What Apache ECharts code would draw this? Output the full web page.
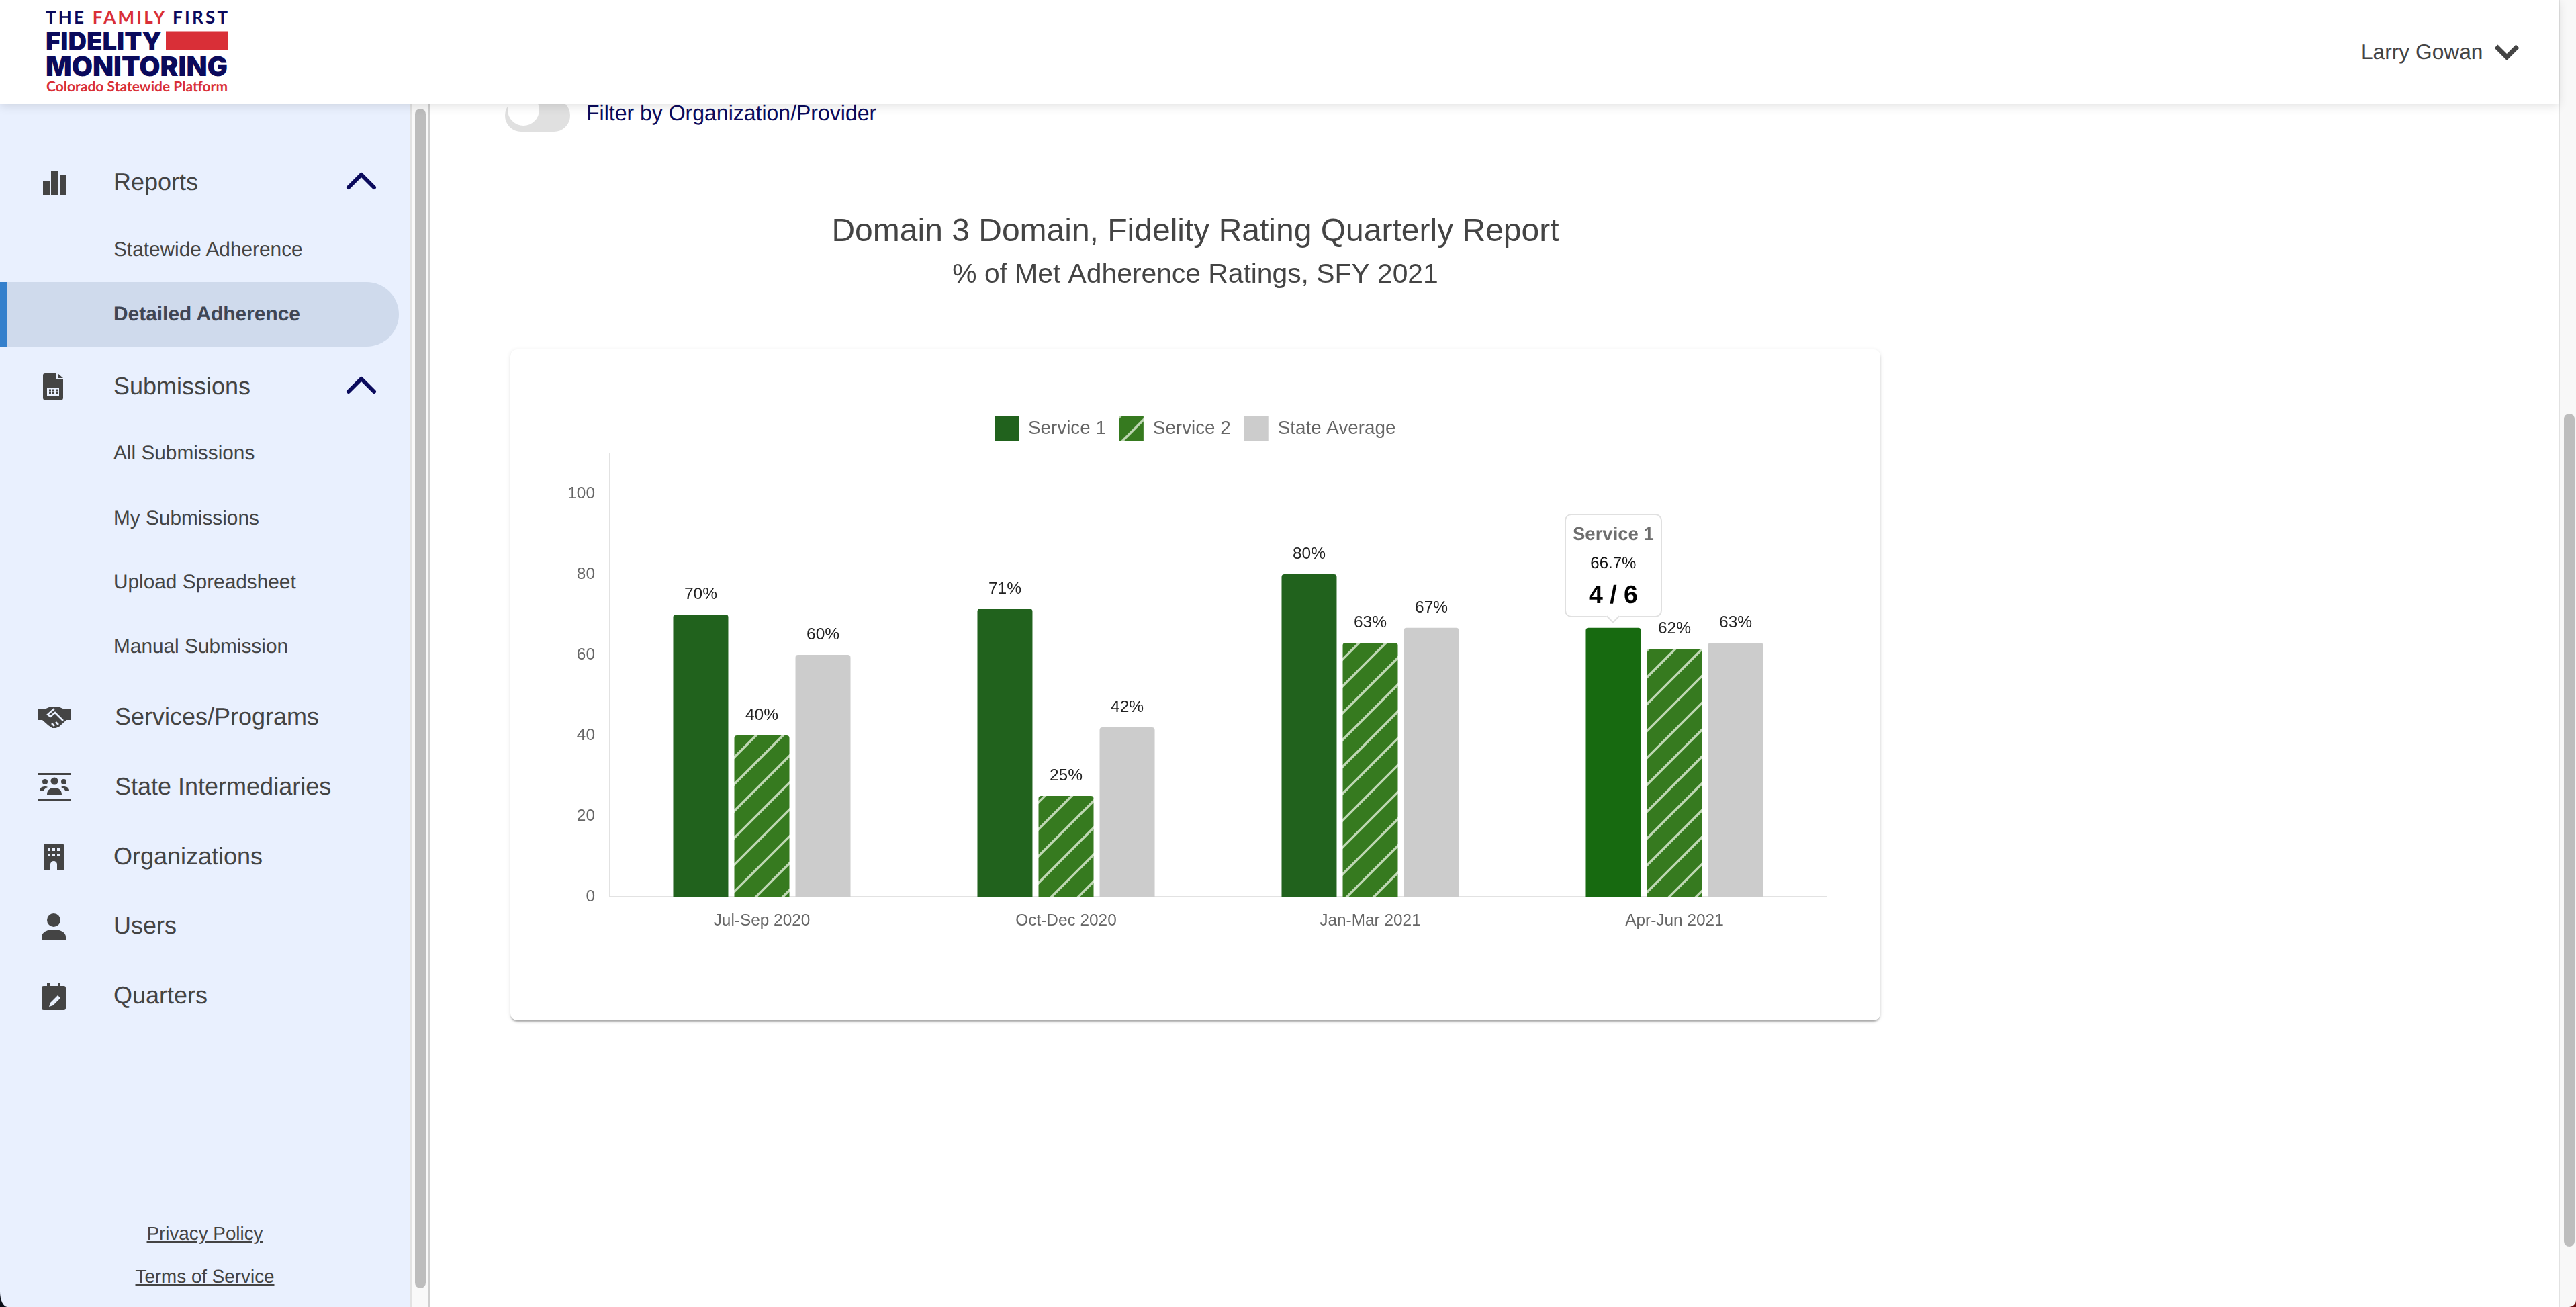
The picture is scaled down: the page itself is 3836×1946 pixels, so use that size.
<!DOCTYPE html>
<html>
<head>
<meta charset="utf-8">
<title>Detailed Adherence</title>
<script src="https://cdn.jsdelivr.net/npm/echarts@6/dist/echarts.min.js"></script>
<style>
*{box-sizing:border-box}
html,body{margin:0;padding:0;width:3836px;height:1946px;overflow:hidden;background:#fff;font-family:"Liberation Sans",Arial,sans-serif;color:#444;text-rendering:geometricPrecision}
.abs{position:absolute;white-space:nowrap}
.nav{left:169px;transform:translateY(-50%);line-height:1}
.big{font-size:36px;margin-top:-1px}
.small{font-size:29.8px}
#header{position:absolute;left:0;top:0;width:3810px;height:155px;background:#fff;box-shadow:0 3px 14px rgba(0,0,0,.12);z-index:5}
#cornerl{position:absolute;left:0;top:1900px;width:30px;height:46px;background:#0a0f18}
#sidebar{position:absolute;left:0;top:155px;width:611px;height:1791px;background:#e9f0fe;border-bottom-left-radius:11px 23px}
#sidetrack{position:absolute;left:611px;top:155px;width:29px;height:1791px;background:#f9f9f9;border-left:2px solid #e2e2e2;border-right:3px solid #cfcfcf}
#sidethumb{position:absolute;left:618px;top:162px;width:16px;height:1756px;border-radius:8px;background:#bdbdbd}
#pill{position:absolute;left:10px;top:420px;width:584px;height:96px;background:#cfdaec;border-radius:0 48px 48px 0}
#pillbar{position:absolute;left:0;top:420px;width:10px;height:96px;background:#3580cc}
#cornerr{position:absolute;left:3816px;top:1926px;width:20px;height:20px;background:#6a0f0f}
#track{position:absolute;left:3810px;top:0;width:26px;height:1946px;background:#f8f8f8;border-left:2px solid #e2e2e2;border-bottom-right-radius:10px}
#thumb{position:absolute;left:3818px;top:616px;width:16px;height:1240px;border-radius:8px;background:#bdbdbd}
#toggle{position:absolute;left:752px;top:148px;width:97px;height:48px;border-radius:24px;background:#e0e0e0}
#knob{position:absolute;left:756px;top:140px;width:47px;height:47px;border-radius:50%;background:#fff}
#card{position:absolute;left:760px;top:520px;width:2040px;height:999px;background:#fff;border-radius:10px;box-shadow:0 3px 3px -1px rgba(0,0,0,.32),0 1px 6px rgba(0,0,0,.1)}
#chart{position:absolute;left:760px;top:300px;width:2040px;height:1219px}
#chart > div > div[style*="rotate"]{width:14px !important;height:14px !important;bottom:-8px !important}
svg.icon{position:absolute;fill:#444}
svg.chev{position:absolute;fill:none;stroke-linecap:round;stroke-linejoin:round}
</style>
</head>
<body>
<div id="cornerl"></div>
<div id="sidebar"></div>
<div id="sidetrack"></div>
<div id="sidethumb"></div>
<div id="pillbar"></div>
<div id="pill"></div>
<div id="cornerr"></div>
<div id="track"></div>
<div id="thumb"></div>
<div id="toggle"></div>
<div id="knob"></div>

<div id="header">
  <svg style="position:absolute;left:60px;top:6px" width="290" height="140" viewBox="60 6 290 140">
    <text y="35" font-family="Lato" font-weight="700" font-size="26" textLength="271" lengthAdjust="spacing" x="68" fill="#0a0a5c">THE <tspan fill="#d92f37">FAMILY</tspan> FIRST</text>
    <text x="68" y="75" font-family="Inter" font-weight="900" font-size="38" textLength="173" lengthAdjust="spacingAndGlyphs" fill="#0a0a5c">FIDELITY</text>
    <rect x="247" y="46.5" width="92" height="28" fill="#d92f37"/>
    <text x="68" y="112.5" font-family="Inter" font-weight="900" font-size="40" textLength="271" lengthAdjust="spacingAndGlyphs" fill="#0a0a5c">MONITORING</text>
    <text x="69" y="136" font-family="Lato" font-weight="700" font-size="21" textLength="270" lengthAdjust="spacing" fill="#d92f37">Colorado Statewide Platform</text>
  </svg>
  <div class="abs" style="left:3516px;top:61px;font-size:31.7px;line-height:32px">Larry Gowan</div>
  <svg class="chev" style="left:3710px;top:60px" width="46" height="34" viewBox="0 0 46 34"><path d="M7 9 L23 25 L39 9" stroke="#444" stroke-width="7" stroke-linecap="butt" stroke-linejoin="miter"/></svg>
</div>

<div class="abs" style="left:873px;top:152px;font-size:32px;line-height:32px;color:#0a0a5c">Filter by Organization/Provider</div>

<svg class="icon" style="left:64px;top:254px" width="35" height="36" viewBox="0 0 35 36"><path d="M0 16h10v20H0zM12 0h11v36H12zM25 6h10v30H25z"/></svg>
<div class="abs nav big" style="top:272px">Reports</div>
<svg class="chev" style="left:512px;top:250px" width="52" height="38" viewBox="0 0 52 38"><path d="M7 29 L26 10 L45 29" stroke="#0a0a5c" stroke-width="6"/></svg>
<div class="abs nav small" style="top:372px">Statewide Adherence</div>
<div class="abs nav small" style="top:468px;font-weight:700;color:#3f4654;font-size:29.9px">Detailed Adherence</div>
<svg class="icon" style="left:64px;top:556px" width="30" height="40" viewBox="0 0 30 40"><path d="M3 0h17v9h10v27a4 4 0 0 1-4 4H4a4 4 0 0 1-4-4V3a3 3 0 0 1 3-3zM22 0l8 7h-8zM6 21v12h18V21zM9 23.500h3v3H9zm5 0h3v3h-3zm5 0h3v3h-3zM9 28h3v3H9zm5 0h3v3h-3zm5 0h3v3h-3z" fill-rule="evenodd"/></svg>
<div class="abs nav big" style="top:576px">Submissions</div>
<svg class="chev" style="left:512px;top:554px" width="52" height="38" viewBox="0 0 52 38"><path d="M7 29 L26 10 L45 29" stroke="#0a0a5c" stroke-width="6"/></svg>
<div class="abs nav small" style="top:675px">All Submissions</div>
<div class="abs nav small" style="top:771.500px">My Submissions</div>
<div class="abs nav small" style="top:867px">Upload Spreadsheet</div>
<div class="abs nav small" style="top:963px">Manual Submission</div>

<svg class="icon" style="left:56px;top:1052px" width="50" height="32" viewBox="0 0 50 32"><path d="M0 4h10l7-3h16l7 3h10v16h-7L32 30l-5 2h-5l-6-4-9-8H0z"/><path d="M25 3 15 12l4 3 7-6 12 12M27 23l4 4M21 25l4 4" fill="none" stroke="#e9f0fe" stroke-width="2.500"/></svg>
<div class="abs nav big" style="left:171px;top:1067.500px">Services/Programs</div>
<svg class="icon" style="left:56px;top:1151px" width="50" height="41" viewBox="0 0 50 41"><path d="M0 0h50v3H0zM0 38h50v3H0z"/><circle cx="25" cy="12" r="5.500"/><circle cx="11" cy="13" r="4"/><circle cx="39" cy="13" r="4"/><path d="M14 32c0-7 5-10 11-10s11 3 11 10zM3 26c0-4 4-6 8-6 2 0 3 0 4 1-3 1-5 3-6 5zM47 26c0-4-4-6-8-6-2 0-3 0-4 1 3 1 5 3 6 5z"/></svg>
<div class="abs nav big" style="left:171px;top:1171.500px">State Intermediaries</div>
<svg class="icon" style="left:65px;top:1256px" width="30" height="39" viewBox="0 0 30 39"><path fill-rule="evenodd" d="M2 0h26a2 2 0 0 1 2 2v37H20v-8a5 5 0 0 0-10 0v8H0V2a2 2 0 0 1 2-2zM6 7v4h4V7zm7 0v4h4V7zm7 0v4h4V7zM6 15v4h4v-4zm7 0v4h4v-4zm7 0v4h4v-4z"/></svg>
<div class="abs nav big" style="top:1275.600px">Organizations</div>
<svg class="icon" style="left:62px;top:1360px" width="36" height="39" viewBox="0 0 36 39"><circle cx="18" cy="10" r="10"/><path d="M0 39v-4c0-8 10-11 18-11s18 3 18 11v4z"/></svg>
<div class="abs nav big" style="top:1379px">Users</div>
<svg class="icon" style="left:62px;top:1464px" width="36" height="40" viewBox="0 0 36 40"><path fill-rule="evenodd" d="M8 0h4v4h12V0h4v4h5a3 3 0 0 1 3 3v30a3 3 0 0 1-3 3H3a3 3 0 0 1-3-3V7a3 3 0 0 1 3-3h5zM24 18l4 4-11 11-6 2 2-6z"/></svg>
<div class="abs nav big" style="top:1483px">Quarters</div>

<div class="abs" style="left:305px;top:1823px;transform:translateX(-50%);font-size:27.800px;line-height:28px;text-decoration:underline">Privacy Policy</div>
<div class="abs" style="left:305px;top:1887px;transform:translateX(-50%);font-size:27.800px;line-height:28px;text-decoration:underline">Terms of Service</div>

<div id="card"></div>
<div id="chart"></div>

<script>
var categories=["Jul-Sep 2020","Oct-Dec 2020","Jan-Mar 2021","Apr-Jun 2021"];
var service1=[70,71.4,80,66.7];
var service2=[40,25,63,61.5];
var stateAverage=[60,42,66.7,63];
var yTicks=[0,20,40,60,80,100];
var hoverTitle="Service 1";
var hoverPercent="66.7%";
var hoverCount="4 / 6";

//diagonal stripes for Service 2, 40px tile
function hatchTile(){
    var c=document.createElement("canvas");
    c.width=40;c.height=40;
    var g=c.getContext("2d");
    g.fillStyle="#367a1f";
    g.fillRect(0,0,40,40);
    g.strokeStyle="#bfd7b3";
    g.lineWidth=3.5;
    g.beginPath();
    g.moveTo(-10,11);g.lineTo(11,-10);
    g.moveTo(-10,51);g.lineTo(51,-10);
    g.moveTo(31,50);g.lineTo(50,31);
    g.stroke();
    return c;
}

var chart=echarts.init(document.getElementById("chart"),null,{renderer:"canvas"});
var labelFont={show:true,position:"top",distance:17,fontSize:24.5,color:"#222",fontFamily:"Liberation Sans",
    formatter:function(p){return Math.round(p.value)+"%";}};
var barBase={type:"bar",barWidth:82,barGap:"11%",label:labelFont};

chart.setOption({
    animation:false,
    textStyle:{fontFamily:"Liberation Sans"},
    title:{
        text:"Domain 3 Domain, Fidelity Rating Quarterly Report",
        subtext:"% of Met Adherence Ratings, SFY 2021",
        left:"center",top:22,itemGap:19,padding:0,
        textStyle:{fontSize:48,fontWeight:"normal",color:"#444",fontFamily:"Liberation Sans"},
        subtextStyle:{fontSize:40.8,color:"#444",fontFamily:"Liberation Sans"}
    },
    legend:{
        left:721,top:320,padding:0,itemWidth:36,itemHeight:36,itemGap:20,icon:"rect",
        textStyle:{fontSize:27.8,color:"#666",padding:[0,0,0,9],fontFamily:"Liberation Sans"}
    },
    grid:{left:148,top:375,width:1812,height:660,containLabel:false},
    xAxis:{
        type:"category",data:categories,
        axisLine:{lineStyle:{color:"#e2e2e2",width:2}},
        axisTick:{show:false},
        axisLabel:{fontSize:24.4,color:"#666",margin:24}
    },
    yAxis:{
        type:"value",min:0,max:110,interval:20,
        axisLine:{show:true,lineStyle:{color:"#e2e2e2",width:2}},
        axisTick:{show:false},
        splitLine:{show:false},
        axisLabel:{fontSize:24.4,color:"#666",margin:22,formatter:function(v){return yTicks.indexOf(v)>=0?v:"";}}
    },
    tooltip:{
        show:true,trigger:"item",position:"top",confine:false,
        backgroundColor:"#fff",borderColor:"#e0e0e0",borderWidth:2,borderRadius:10,padding:[14,10,12.5,10],
        extraCssText:"box-shadow:none;margin-top:-5px;",
        formatter:function(){
            return '<div style="text-align:center;font-family:Liberation Sans;line-height:1">'+
                '<div style="font-size:27.5px;font-weight:700;color:#6e6e6e;margin-bottom:18.5px">'+hoverTitle+'</div>'+
                '<div style="font-size:24px;color:#111;margin-bottom:16px">'+hoverPercent+'</div>'+
                '<div style="font-size:37.5px;font-weight:700;color:#000">'+hoverCount+'</div></div>';
        }
    },
    series:[
        Object.assign({},barBase,{name:"Service 1",data:service1,
            itemStyle:{color:"#21621d",borderRadius:[4,4,0,0]},
            emphasis:{itemStyle:{color:"#176a10"}}}),
        Object.assign({},barBase,{name:"Service 2",data:service2,
            itemStyle:{color:{image:hatchTile(),repeat:"repeat"},borderRadius:[4,4,0,0]}}),
        Object.assign({},barBase,{name:"State Average",data:stateAverage,
            itemStyle:{color:"#cccccc",borderRadius:[4,4,0,0]}})
    ]
});
chart.dispatchAction({type:"highlight",seriesIndex:0,dataIndex:3});
chart.dispatchAction({type:"showTip",seriesIndex:0,dataIndex:3});
</script>
</body>
</html>
